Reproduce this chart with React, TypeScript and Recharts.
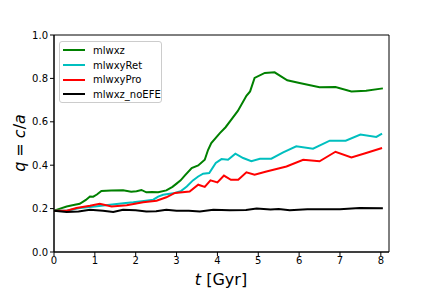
import { LineChart, Line, XAxis, YAxis, ReferenceArea } from 'recharts';

const xTicks = [0, 1, 2, 3, 4, 5, 6, 7, 8];
const yTicks = [0, 0.2, 0.4, 0.6, 0.8, 1.0];

const mlwxzT = [0, 0.15, 0.31, 0.45, 0.63, 0.78, 0.88, 0.96, 1.05, 1.16, 1.4, 1.69, 1.89, 2.02, 2.14, 2.26, 2.4, 2.55, 2.75, 2.9, 3.0, 3.1, 3.2, 3.37, 3.53, 3.69, 3.77, 3.85, 4.06, 4.2, 4.34, 4.5, 4.71, 4.8, 4.91, 5.16, 5.4, 5.71, 6.01, 6.5, 6.89, 7.28, 7.64, 8.05];
const mlwxzQ = [0.19, 0.2, 0.21, 0.215, 0.222, 0.24, 0.256, 0.255, 0.265, 0.281, 0.283, 0.284, 0.278, 0.28, 0.286, 0.275, 0.277, 0.275, 0.284, 0.3, 0.315, 0.33, 0.352, 0.387, 0.399, 0.425, 0.47, 0.502, 0.548, 0.575, 0.61, 0.65, 0.72, 0.74, 0.802, 0.825, 0.828, 0.791, 0.779, 0.759, 0.76, 0.74, 0.743, 0.754];

const retT = [0, 0.31, 0.63, 1.0, 1.37, 1.7, 1.94, 2.2, 2.43, 2.55, 2.67, 2.96, 3.1, 3.25, 3.4, 3.53, 3.65, 3.8, 3.96, 4.1, 4.26, 4.44, 4.63, 4.83, 5.04, 5.32, 5.61, 5.93, 6.34, 6.75, 7.14, 7.5, 7.89, 8.03];
const retQ = [0.19, 0.19, 0.203, 0.21, 0.218, 0.225, 0.229, 0.235, 0.241, 0.255, 0.264, 0.272, 0.28, 0.302, 0.33, 0.348, 0.361, 0.364, 0.41, 0.428, 0.425, 0.453, 0.433, 0.418, 0.43, 0.43, 0.459, 0.487, 0.476, 0.513, 0.513, 0.541, 0.53, 0.545];

const proT = [0, 0.31, 0.55, 0.88, 1.12, 1.41, 1.78, 2.18, 2.51, 2.75, 2.96, 3.32, 3.53, 3.69, 3.83, 4.0, 4.16, 4.33, 4.51, 4.71, 4.91, 5.2, 5.69, 6.1, 6.5, 6.89, 7.28, 7.64, 8.03];
const proQ = [0.19, 0.19, 0.203, 0.213, 0.222, 0.21, 0.215, 0.229, 0.236, 0.252, 0.272, 0.279, 0.31, 0.3, 0.33, 0.321, 0.352, 0.333, 0.333, 0.367, 0.356, 0.371, 0.394, 0.425, 0.418, 0.462, 0.436, 0.456, 0.479];

const noEfeT = [0, 0.31, 0.6, 0.88, 1.2, 1.45, 1.69, 2.0, 2.26, 2.5, 2.75, 3.0, 3.3, 3.57, 3.9, 4.3, 4.7, 4.96, 5.3, 5.5, 5.77, 6.2, 6.6, 7.0, 7.48, 8.05];
const noEfeQ = [0.19, 0.184, 0.187, 0.195, 0.19, 0.184, 0.195, 0.192, 0.187, 0.188, 0.195, 0.19, 0.19, 0.187, 0.195, 0.192, 0.194, 0.2, 0.196, 0.198, 0.192, 0.197, 0.197, 0.197, 0.203, 0.202];

const toPoints = (t: number[], q: number[]) => t.map((v, i) => ({ t: v, q: q[i] }));

const series = [
  { name: 'mlwxz', color: '#008000', data: toPoints(mlwxzT, mlwxzQ) },
  { name: 'mlwxyRet', color: '#00bfbf', data: toPoints(retT, retQ) },
  { name: 'mlwxyPro', color: '#ff0000', data: toPoints(proT, proQ) },
  { name: 'mlwxz_noEFE', color: '#000000', data: toPoints(noEfeT, noEfeQ) },
];

const FONT = '"DejaVu Sans", sans-serif';
const tickStyle = { fontSize: 10, fill: '#000', fontFamily: FONT };

export default function App() {
  return (
    <div style={{ position: 'absolute', left: 0, top: 0, width: 432, height: 288, background: '#fff' }}>
      <LineChart width={432} height={288} margin={{ top: 35, right: 43, bottom: 0, left: 0 }}>
        <XAxis
          dataKey="t"
          type="number"
          domain={[0, 8.2]}
          ticks={xTicks}
          height={36}
          tick={tickStyle}
          tickSize={4}
          tickMargin={1}
          stroke="#000"
          allowDuplicatedCategory={false}
        />
        <YAxis
          type="number"
          domain={[0, 1]}
          ticks={yTicks}
          width={54}
          tick={tickStyle}
          tickSize={4}
          tickMargin={2}
          stroke="#000"
          tickFormatter={(v: number) => v.toFixed(1)}
        />
        <ReferenceArea x1={0} x2={8.2} y1={0} y2={1} fill="none" stroke="#000" strokeWidth={1} ifOverflow="visible" />
        {series.map((s) => (
          <Line
            key={s.name}
            data={s.data}
            dataKey="q"
            name={s.name}
            type="linear"
            stroke={s.color}
            strokeWidth={2}
            dot={false}
            activeDot={false}
            isAnimationActive={false}
          />
        ))}
        <text x={19} y={143} transform="rotate(-90 19 143)" textAnchor="middle" dominantBaseline="central" fontFamily={FONT} fontSize={16} fill="#000">
          <tspan fontStyle="italic">q</tspan>
          <tspan> = </tspan>
          <tspan fontStyle="italic">c</tspan>
          <tspan>/</tspan>
          <tspan fontStyle="italic">a</tspan>
        </text>
        <text x={221} y={285} textAnchor="middle" fontFamily={FONT} fontSize={16} fill="#000">
          <tspan fontStyle="italic">t</tspan>
          <tspan> [Gyr]</tspan>
        </text>
      </LineChart>
      <div
        style={{
          position: 'absolute',
          left: 59,
          top: 41,
          width: 103,
          height: 62,
          boxSizing: 'border-box',
          border: '1px solid #cccccc',
          borderRadius: 3,
          background: 'rgba(255,255,255,0.8)',
          fontFamily: FONT,
          fontSize: 10,
          color: '#000',
          paddingTop: 1,
        }}
      >
        {series.map((s) => (
          <div key={s.name} style={{ display: 'flex', alignItems: 'center', height: 14.7 }}>
            <span style={{ display: 'inline-block', width: 22, height: 2, background: s.color, marginLeft: 3, marginRight: 8 }} />
            <span>{s.name}</span>
          </div>
        ))}
      </div>
    </div>
  );
}
